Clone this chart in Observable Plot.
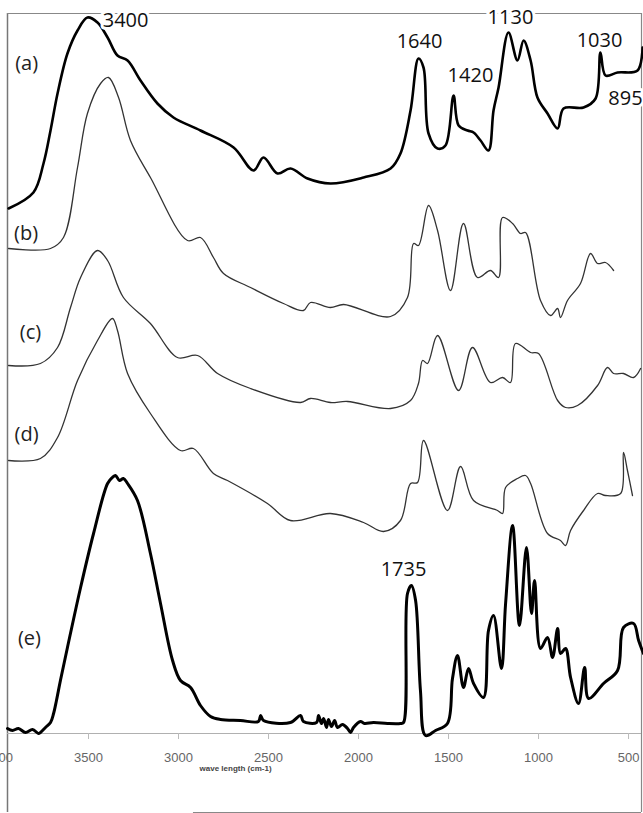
<!DOCTYPE html>
<html><head><meta charset="utf-8">
<script src="https://cdn.jsdelivr.net/npm/d3@7"></script>
<script src="https://cdn.jsdelivr.net/npm/@observablehq/plot@0.6"></script>
<style>html,body{margin:0;padding:0;background:#fff}#chart svg{display:block}</style>
</head><body><div id="chart"></div>
<script>
// FTIR spectra: [wavenumber (cm-1), intensity (a.u., offset per trace)]
const specA = [[3944,605],[3806,621],[3750,650],[3711,683],[3672,720],[3617,760],[3561,783],[3506,796],[3450,791],[3394,776],[3339,758],[3283,753],[3211,733],[3117,710],[3028,696],[2878,683],[2694,666],[2583,643],[2528,656],[2450,640],[2378,645],[2283,635],[2156,630],[1972,636],[1822,645],[1767,660],[1711,703],[1667,755],[1639,746],[1611,680],[1561,665],[1517,668],[1472,718],[1444,688],[1394,683],[1361,681],[1322,673],[1278,663],[1250,703],[1222,726],[1167,781],[1117,753],[1083,773],[1044,753],[1006,716],[950,700],[894,685],[861,705],[750,706],[683,715],[656,761],[628,738],[561,741],[450,743],[422,766]];
const specB = [[3944,565],[3711,565],[3639,576],[3561,646],[3506,700],[3433,730],[3389,736],[3333,716],[3267,673],[3156,636],[2950,573],[2878,576],[2806,556],[2750,540],[2600,526],[2417,510],[2306,503],[2267,511],[2156,506],[2083,509],[1822,497],[1728,516],[1694,570],[1667,568],[1611,608],[1561,583],[1489,523],[1417,590],[1339,536],[1267,543],[1222,536],[1200,596],[1144,590],[1100,580],[1072,581],[989,513],[933,498],[894,505],[878,496],[839,513],[767,530],[711,560],[672,550],[628,551],[583,543]];
const specC = [[3944,448],[3767,450],[3672,466],[3600,506],[3544,536],[3450,563],[3394,553],[3306,516],[3156,490],[3006,456],[2894,458],[2783,440],[2600,425],[2322,411],[2267,415],[2156,411],[2061,412],[1822,405],[1711,413],[1667,430],[1644,453],[1617,450],[1561,478],[1444,423],[1367,466],[1267,431],[1200,436],[1156,431],[1128,470],[1044,461],[1000,460],[894,413],[850,406],[783,408],[672,428],[617,446],[583,440],[528,440],[472,436],[433,445]];
const specD = [[3944,353],[3767,355],[3672,376],[3561,433],[3450,473],[3367,495],[3339,483],[3283,440],[3156,400],[2989,363],[2917,365],[2806,340],[2728,333],[2506,310],[2378,293],[2156,300],[1972,291],[1861,282],[1767,293],[1711,330],[1672,331],[1639,373],[1506,303],[1433,347],[1361,313],[1228,303],[1200,300],[1183,326],[1117,335],[1072,338],[1044,330],[950,280],[878,273],[850,268],[822,283],[750,303],[672,320],[628,318],[544,320],[528,361],[506,343],[478,318]];
const specE = [[3950,85],[3922,83],[3889,85],[3850,81],[3811,84],[3778,80],[3767,81],[3739,86],[3711,91],[3694,100],[3678,113],[3656,133],[3617,166],[3544,226],[3472,280],[3394,330],[3367,336],[3350,338],[3328,333],[3306,335],[3283,330],[3228,313],[3156,260],[3100,210],[3033,153],[2989,133],[2933,126],[2878,108],[2822,97],[2767,94],[2656,93],[2556,92],[2544,98],[2528,93],[2378,91],[2322,98],[2306,92],[2233,91],[2222,98],[2206,90],[2194,95],[2178,86],[2167,94],[2150,87],[2133,93],[2117,86],[2089,89],[2061,85],[2044,81],[2028,86],[1989,92],[1967,90],[1917,91],[1839,90],[1767,90],[1750,91],[1728,220],[1706,228],[1683,213],[1656,123],[1628,78],[1572,83],[1506,90],[1478,135],[1450,158],[1417,126],[1389,145],[1361,130],[1306,116],[1278,183],[1250,198],[1206,145],[1183,210],[1144,288],[1106,188],[1067,266],[1039,200],[1022,233],[989,165],[950,176],[922,156],[894,185],[878,160],[850,165],[822,136],[778,110],[744,146],[722,115],[639,130],[561,143],[528,186],[472,190],[444,173],[417,160]];

const peakText = ["3400","1640","1420","1130","1030","895","1735"];
const peakX = [3294,1661,1378,1156,661,517,1750];
const peakY = [793,772,738,796,773,715,244];

const traceText = ["(a)","(b)","(c)","(d)","(e)"];
const traceX = [3844,3847,3822,3844,3828];
const traceY = [750,580,481,379,175];

const xTicks = [4000,3500,3000,2500,2000,1500,1000,500];
const xTitle = "wave length (cm-1)";

const toRows = arr => arr.map(([wn, t]) => ({wn, t}));
const peaks = peakText.map((label, i) => ({label, wn: peakX[i], t: peakY[i]}));
const traces = traceText.map((label, i) => ({label, wn: traceX[i], t: traceY[i]}));

const chart = Plot.plot({
  width: 643,
  height: 813,
  marginLeft: 7,
  marginRight: 2,
  marginTop: 13,
  marginBottom: 1,
  x: {domain: [3950, 428], axis: null},
  y: {domain: [1, 800], axis: null},
  style: {background: "#fff"},
  marks: [
    Plot.ruleX([3950], {stroke: "#777", strokeWidth: 1.5}),
    Plot.ruleX([428], {stroke: "#888", strokeWidth: 1.2}),
    Plot.ruleY([800], {stroke: "#888", strokeWidth: 1.2}),
    Plot.ruleY([1], {x1: 2917, x2: 428, stroke: "#888", strokeWidth: 1.2}),
    Plot.ruleY([80], {stroke: "#b0b0b0", strokeWidth: 1}),
    Plot.axisX(xTicks, {anchor: "bottom", dy: -79, tickSize: 6, tickPadding: 13, fontSize: 13,
      fontFamily: "'Liberation Sans Narrow', 'Liberation Sans', sans-serif", color: "#666", stroke: "#bbb",
      tickFormat: d => String(d), label: null}),
    Plot.text([xTitle], {x: 2683, y: 45, text: d => d, fontSize: 8, fontWeight: "bold", fill: "#444",
      fontFamily: "'Liberation Sans', sans-serif"}),
    Plot.line(toRows(specB), {x: "wn", y: "t", stroke: "#333", strokeWidth: 1.3, curve: "catmull-rom"}),
    Plot.line(toRows(specC), {x: "wn", y: "t", stroke: "#333", strokeWidth: 1.3, curve: "catmull-rom"}),
    Plot.line(toRows(specD), {x: "wn", y: "t", stroke: "#333", strokeWidth: 1.3, curve: "catmull-rom"}),
    Plot.line(toRows(specA), {x: "wn", y: "t", stroke: "#000", strokeWidth: 2.6, curve: "catmull-rom"}),
    Plot.line(toRows(specE), {x: "wn", y: "t", stroke: "#000", strokeWidth: 3, curve: "catmull-rom"}),
    Plot.text(peaks, {x: "wn", y: "t", text: "label", fontSize: 20, fill: "#111",
      fontFamily: "'Open Sans', sans-serif", stroke: "white", strokeWidth: 6}),
    Plot.text(traces, {x: "wn", y: "t", text: "label", fontSize: 20, fill: "#222",
      fontFamily: "'Open Sans', sans-serif"})
  ]
});
document.getElementById("chart").append(chart);
</script>
</body></html>
